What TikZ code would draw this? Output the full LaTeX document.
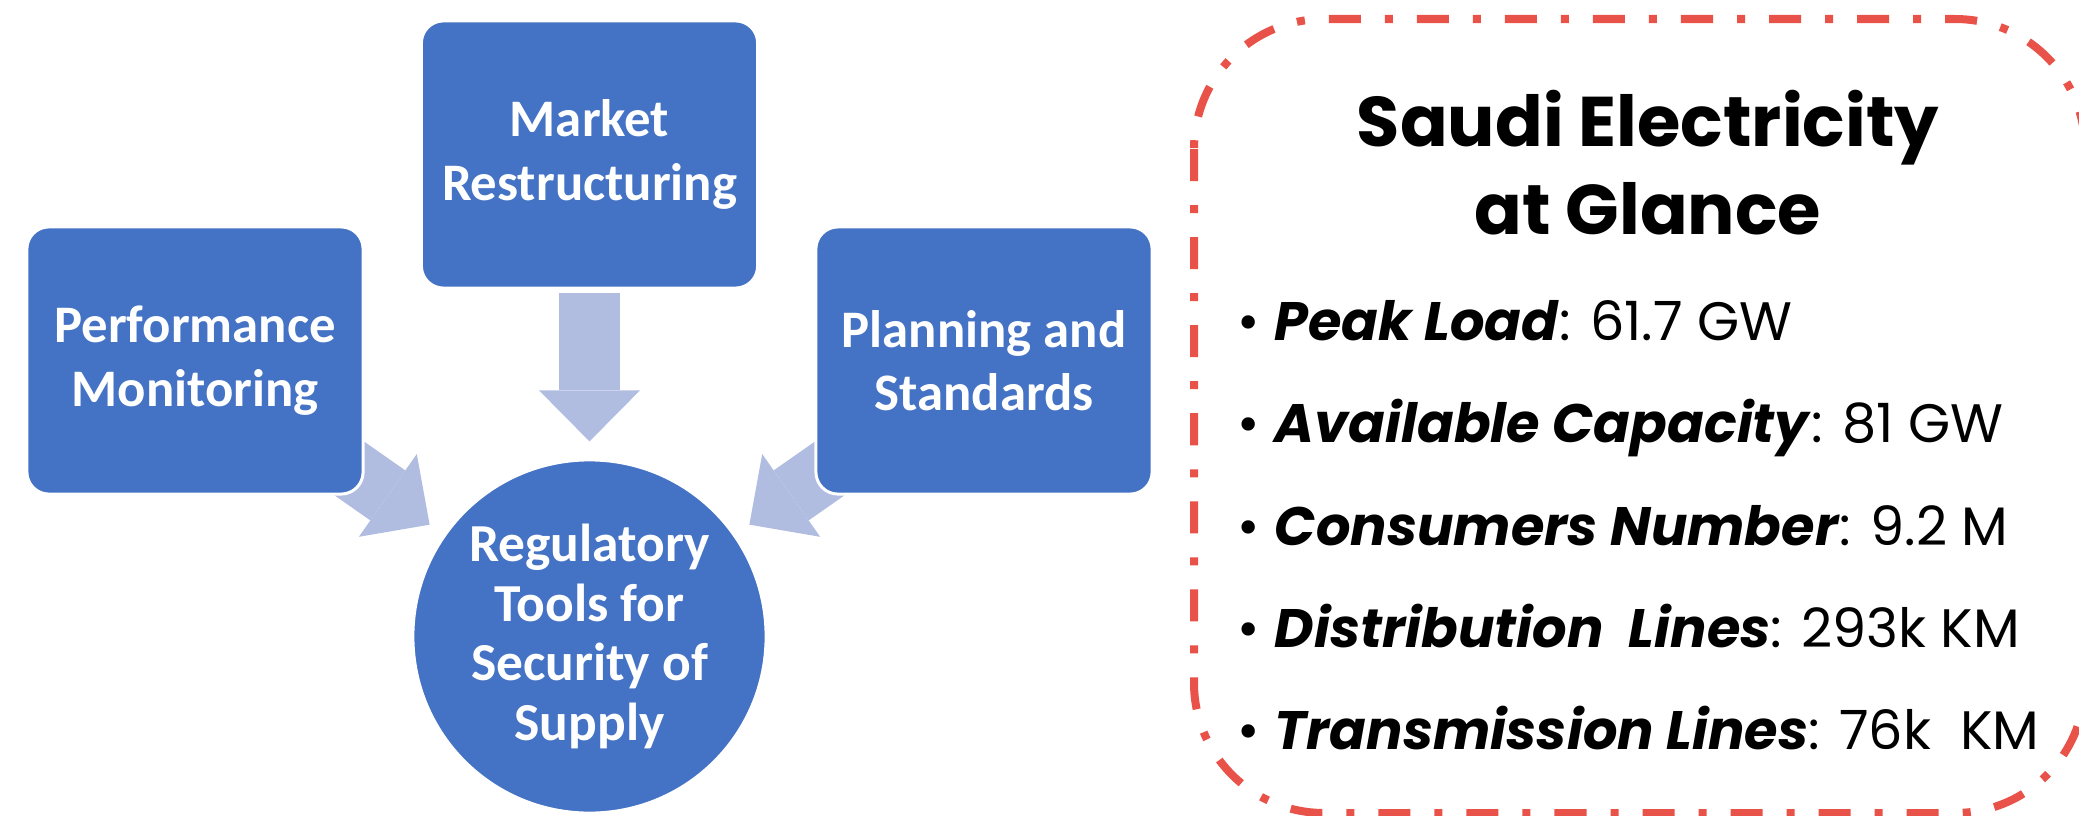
\documentclass[tikz,border=0pt]{standalone}
\usepackage{fontspec}
\setmainfont{Poppins}
\newfontfamily\boxfont{Carlito}
\usetikzlibrary{arrows.meta,calc,backgrounds}
\definecolor{boxblue}{RGB}{68,114,196}
\definecolor{arrowblue}{RGB}{176,189,224}
\definecolor{framered}{RGB}{233,82,72}

\begin{document}
\begin{tikzpicture}[x=0.01cm,y=-0.01cm,
    toolbox/.style={draw=white, line width=0.03cm, fill=boxblue, rounded corners=0.22cm,
      minimum width=3.36cm, minimum height=2.67cm, align=center, text=white,
      font=\boxfont\bfseries\fontsize{15}{18}\selectfont},
    toolcircle/.style={toolbox, circle, minimum size=3.53cm, inner sep=0pt,
      font=\boxfont\bfseries\fontsize{15.2}{17}\selectfont},
    blockarrow/.style={draw=arrowblue, line width=0.61cm,
      -{Triangle[length=0.51cm, width=1.01cm, line width=0pt]}},
    glanceframe/.style={draw=framered, line width=0.08cm, rounded corners=1.3cm,
      dash pattern=on 0.32cm off 0.24cm on 0.08cm off 0.24cm}]
  \clip (0,0) rectangle (2079,815);
  % the three tools and the goal
  \node[toolbox] (market) at (589.5,154.5) {Market\\Restructuring};
  \node[toolbox] (perf) at (195,360.5) {Performance\\Monitoring};
  \node[toolbox] (plan) at (984,360.5) {Planning and\\Standards};
  \node[toolcircle] (reg) at (589.5,636.5) {Regulatory\\Tools for\\Security of\\Supply};
  \begin{scope}[on background layer]
    \foreach \src in {market,perf,plan}
      \draw[blockarrow] ($(reg)!3.43cm!(\src)$) -- ($(reg)!1.95cm!(\src)$);
  \end{scope}
  % facts panel
  \draw[glanceframe] (1194,19) rectangle (2085,813);
  \node[font=\bfseries\fontsize{20}{25}\selectfont, align=center, anchor=base, inner sep=0pt]
    (title) at (1648,234) {Saudi Electricity\\at Glance};
  \foreach \yy/\lbl/\val [count=\i] in {340/Peak Load/61.7 GW,
      442/Available Capacity/81 GW,
      545/Consumers Number/9.2 M,
      647/Distribution\ \ Lines/293k KM,
      749/Transmission Lines/76k\ \ KM}
    \node[anchor=base west, inner sep=0pt, font=\fontsize{15.4}{20}\selectfont]
      (item\i) at (1237,\yy) {\makebox[0.37cm][l]{\textbullet}\textbf{\textit{\lbl}}: \val};
\end{tikzpicture}
\end{document}
